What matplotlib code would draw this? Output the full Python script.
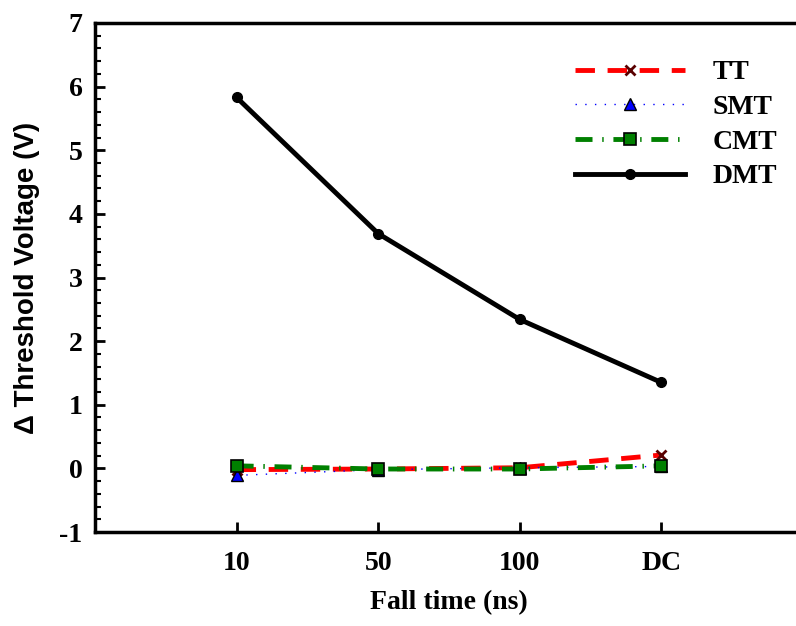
import matplotlib
matplotlib.use("Agg")
import matplotlib.pyplot as plt
from matplotlib.ticker import MultipleLocator

plt.rcParams["axes.unicode_minus"] = False

categories = ["10", "50", "100", "DC"]
tt = [-0.02, -0.01, 0.01, 0.21]
smt = [-0.11, -0.02, 0.01, 0.03]
cmt = [0.04, -0.01, -0.01, 0.04]
dmt = [5.83, 3.69, 2.34, 1.35]

serif = "Liberation Serif"
sans = "Liberation Sans"
FS = 20

W, H = 796, 626
fig = plt.figure(figsize=(W / 100, H / 100), dpi=100)
ax = fig.add_axes([95 / W, 1 - 532 / H, 708 / W, (532 - 23) / H])
x = list(range(len(categories)))

ax.plot(x, tt, color="red", lw=3.5, ls=(0, (4, 2.6)), marker="x", ms=7, mec="#5a0000", mew=2, label="TT", zorder=3)
ax.plot(x, smt, color="blue", lw=1, ls=(0, (1, 6)), marker="^", ms=8, mfc="blue", mec="black", mew=1, label="SMT", zorder=3)
ax.plot(x, cmt, color="green", lw=3.5, ls=(0, (3.5, 2, 0.3, 2)), marker="s", ms=8, mfc="green", mec="black", mew=1.2, label="CMT", zorder=3)
ax.plot(x, dmt, color="black", lw=3.5, ls="-", marker="o", ms=7, label="DMT", zorder=4)

ax.set_xlim(-1, 4)
ax.set_ylim(-1, 7)
ax.set_xticks(x)
ax.set_xticklabels(categories)
ax.yaxis.set_major_locator(MultipleLocator(1))
ax.yaxis.set_minor_locator(MultipleLocator(0.2))
ax.tick_params(axis="y", which="major", direction="in", length=7, width=2, pad=9, left=True, right=False)
ax.tick_params(axis="y", which="minor", direction="in", length=4, width=1.5, left=True, right=False)
ax.tick_params(axis="x", which="major", direction="in", length=7, width=2, pad=14, top=False)
for lab in ax.get_xticklabels() + ax.get_yticklabels():
    lab.set_fontfamily(serif)
    lab.set_fontweight("bold")
    lab.set_fontsize(FS)

for s in ["left", "bottom", "top"]:
    ax.spines[s].set_linewidth(2.5)
ax.spines["right"].set_visible(False)

ax.set_xlabel("Fall time (ns)", fontfamily=serif, fontweight="bold", fontsize=FS, labelpad=10)
ax.set_ylabel("Δ Threshold Voltage (V)", fontfamily=sans, fontweight="bold", fontsize=20, labelpad=14)

leg = fig.legend(*ax.get_legend_handles_labels(), loc="upper left",
                 bbox_to_anchor=(575 / W, 1 - 60 / H), frameon=False,
                 borderpad=0, borderaxespad=0,
                 prop={"family": serif, "weight": "bold", "size": FS},
                 handlelength=3.96, handletextpad=1.0, labelspacing=0.33)

fig.savefig("out.png", dpi=100)
